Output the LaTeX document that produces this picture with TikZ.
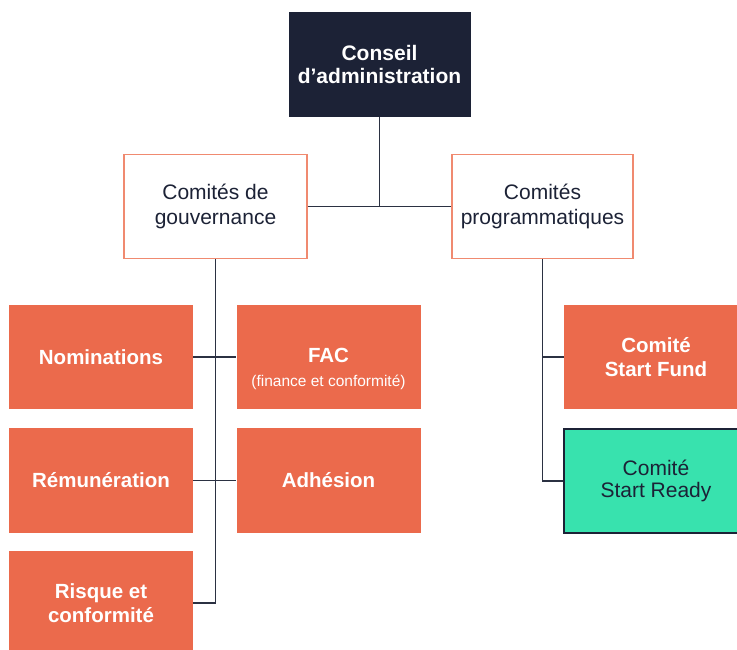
\documentclass[tikz,border=0pt]{standalone}
\usepackage{fontspec}
\setmainfont{Liberation Sans}
\definecolor{navy}{HTML}{1C2236}
\definecolor{orng}{HTML}{EB6A4C}
\definecolor{orngline}{HTML}{F08A70}
\definecolor{grn}{HTML}{38E2AE}
\definecolor{lnk}{HTML}{2B3142}
\begin{document}
\begin{tikzpicture}[x=1pt,y=-1pt,
  boxbase/.style={rectangle, minimum width=184pt, minimum height=104pt, align=center, inner sep=0pt, font=\fontsize{21}{24.5}\selectfont},
  topbox/.style={boxbase, fill=navy, text=white, font=\bfseries\fontsize{21}{22.5}\selectfont},
  outbox/.style={boxbase, fill=white, draw=orngline, line width=1.2pt, text=navy},
  orbox/.style={boxbase, fill=orng, text=white, font=\bfseries\fontsize{20.5}{23.5}\selectfont},
  grbox/.style={boxbase, fill=grn, draw=navy, line width=1.2pt, text=navy, font=\fontsize{21}{22.5}\selectfont},
  subtxt/.style={text=white, inner sep=0pt, font=\fontsize{15.5}{18}\selectfont},
  link/.style={draw=lnk, line width=1.4pt}]
\useasboundingbox (0,0) rectangle (737,650);
\clip (0,0) rectangle (737,650);
\node[topbox, minimum width=182pt, minimum height=105pt] (ca) at (379.5,64.5) {Conseil\\d’administration};
\node[outbox, minimum width=183pt] (gov) at (215.5,206.5) {Comités de\\gouvernance};
\node[outbox, minimum width=181pt] (prog) at (542.5,206.5) {Comités\\programmatiques};
\node[orbox] (nom) at (101,357) {Nominations};
\node[orbox] (fac) at (328.5,357) {};
\node[subtxt] (facsub) at (328.5,382) {(finance et conformité)};
\node[text=white, inner sep=0pt, font=\bfseries\fontsize{20.5}{23.5}\selectfont] (factitle) at (328.5,355) {FAC};
\node[orbox, minimum height=105pt] (rem) at (101,480.5) {Rémunération};
\node[orbox, minimum height=105pt] (adh) at (328.5,480.5) {Adhésion};
\node[orbox] (risk) at (101,603) {Risque et\\conformité};
\node[orbox] (fund) at (656,357) {Comité\\Start Fund};
\node[grbox] (ready) at (656,481) {Comité\\Start Ready};
\coordinate (j) at (ca.south |- gov.east);
\draw[link] (ca.south) -- (j);
\draw[link] (gov.east) -- (prog.west);
\draw[link] (gov.south) -- (gov.south |- risk.east) -- (risk.east);
\draw[link] (nom.east) -- (fac.west);
\draw[link] (rem.east) -- (adh.west);
\draw[link] (prog.south) -- (prog.south |- ready.west) -- (ready.west);
\draw[link] (prog.south |- fund.west) -- (fund.west);
\end{tikzpicture}
\end{document}
